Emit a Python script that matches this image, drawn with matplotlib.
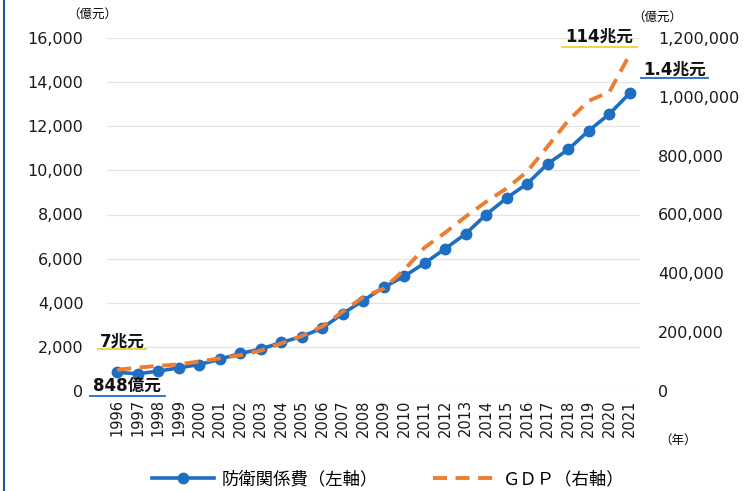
import matplotlib
matplotlib.use('Agg')
import matplotlib.pyplot as plt
from matplotlib.lines import Line2D
from matplotlib.ticker import FuncFormatter

plt.rcParams['font.family'] = ['DejaVu Sans', 'Noto Sans CJK JP']

# 年
years = list(range(1996, 2022))

# 防衛関係費（億元, 左軸）
defense = [848, 780, 900, 1050, 1200, 1440, 1700, 1900, 2200, 2470,
           2850, 3510, 4100, 4700, 5200, 5800, 6450, 7130, 8000, 8750,
           9400, 10300, 10950, 11800, 12550, 13500]

# GDP（億元, 右軸）
gdp = [71800, 79700, 85200, 90600, 100300, 110900, 121700, 137400, 161800,
       187300, 219400, 270100, 319200, 348500, 412100, 487900, 538600,
       593000, 643600, 688900, 746400, 832000, 919300, 986500, 1016000,
       1143700]

left_ticks = [0, 2000, 4000, 6000, 8000, 10000, 12000, 14000, 16000]
right_ticks = [0, 200000, 400000, 600000, 800000, 1000000, 1200000]

blue = '#1F6EC1'
orange = '#ED7D31'
yellow = '#F0D03C'

W, H = 754, 491
fig = plt.figure(figsize=(W / 100, H / 100), dpi=100)
ax = fig.add_axes([107 / W, 1 - 391 / H, (640 - 107) / W, (391 - 38) / H])

ax.plot(years, defense, color=blue, lw=2.6, marker='o', ms=7.5, zorder=3)
ax.set_xlim(1995.5, 2021.5)
ax.set_ylim(0, 16000)
ax.set_yticks(left_ticks)
ax.set_xticks(years)
ax.set_xticklabels([str(y) for y in years], rotation=90, fontsize=10.5)
ax.yaxis.set_major_formatter(FuncFormatter(lambda v, p: f'{int(v):,}'))
ax.tick_params(axis='y', length=0, pad=17, labelsize=11.5, labelcolor='#1a1a1a')
ax.tick_params(axis='x', length=0, pad=6, labelcolor='#1a1a1a')
ax.grid(axis='y', color='#e4e4e4', lw=0.9)
ax.set_axisbelow(True)
for s in ax.spines.values():
    s.set_visible(False)

ax2 = ax.twinx()
ax2.plot(years, gdp, color=orange, lw=2.8, dashes=(3.6, 2.2), zorder=4)
ax2.set_ylim(0, 1200000)
ax2.set_yticks(right_ticks)
ax2.yaxis.set_major_formatter(FuncFormatter(lambda v, p: f'{int(v):,}'))
ax2.tick_params(axis='y', length=0, pad=13, labelsize=11.5, labelcolor='#1a1a1a')
for s in ax2.spines.values():
    s.set_visible(False)

# 単位
fig.text(92 / W, 1 - 14 / H, '（億元）', fontsize=9, ha='center', va='center')
fig.text(657 / W, 1 - 17 / H, '（億元）', fontsize=9, ha='center', va='center')
fig.text(678 / W, 1 - 440 / H, '（年）', fontsize=9, ha='center', va='center')

# 注記
notes = [
    ('114兆元', 599, 37, yellow, 562, 637, 47),
    ('1.4兆元', 675, 70, blue, 641, 708, 78),
    ('7兆元', 122, 342, yellow, 98, 146, 349),
    ('848億元', 127, 386, blue, 90, 165, 396),
]
for txt, x, y, c, x0, x1, yl in notes:
    fig.text(x / W, 1 - y / H, txt, fontsize=12, fontweight='bold',
             ha='center', va='center', color='#111111')
    fig.add_artist(Line2D([x0 / W, x1 / W], [1 - yl / H, 1 - yl / H],
                          color=c, lw=1.3))

# 左端の枠線
fig.add_artist(Line2D([4 / W, 4 / W], [0, 1], color='#2A4F9A', lw=1.5))

handles = [Line2D([], [], color=blue, lw=2.6, marker='o', ms=7.5),
           Line2D([], [], color=orange, lw=2.8, dashes=(3.6, 2.2))]
fig.legend(handles, ['防衛関係費（左軸）', 'ＧＤＰ（右軸）'], ncol=2,
           loc='center', bbox_to_anchor=(388 / W, 1 - 479 / H), frameon=False,
           fontsize=12.5, handlelength=3.6, columnspacing=3.2,
           handletextpad=0.4)

fig.savefig('out.png', dpi=100)
